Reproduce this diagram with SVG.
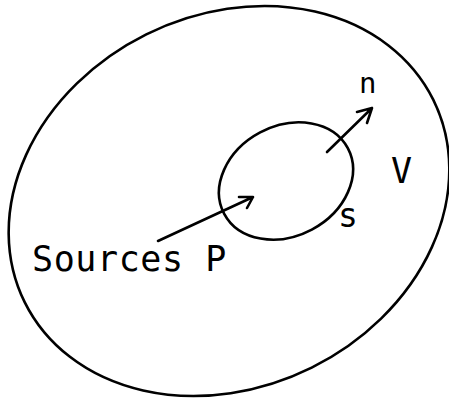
<svg xmlns="http://www.w3.org/2000/svg" width="449" height="398" viewBox="0 0 449 398">
<style>
.c{fill:none;stroke:#000;stroke-width:2.6;stroke-linecap:round;stroke-linejoin:round}
.t{font-family:"DejaVu Sans Mono","Liberation Mono",monospace;fill:#000}
</style>
<rect width="449" height="398" fill="#fff"/>
<g id="volume">
<ellipse class="c" cx="229" cy="201" rx="228" ry="186" transform="rotate(-26.4 229 201)"/>
<text class="t" x="391" y="183" font-size="35">V</text>
</g>
<g id="surface">
<ellipse class="c" cx="286" cy="181" rx="70" ry="55" transform="rotate(-28 286 181)"/>
<text class="t" x="338" y="227" font-size="33">s</text>
</g>
<g id="sources">
<text class="t" x="32" y="271" font-size="35" letter-spacing="0.6">Sources P</text>
</g>
<g id="normal">
<text class="t" x="359" y="93" font-size="29">n</text>
</g>
<g id="connectors">
<path class="c" d="M158 241 L253 197 M239 197 L253 197 L247 208"/>
<path class="c" d="M327 152 L372 108 M357 112 L372 108 L367 123"/>
</g>
</svg>
